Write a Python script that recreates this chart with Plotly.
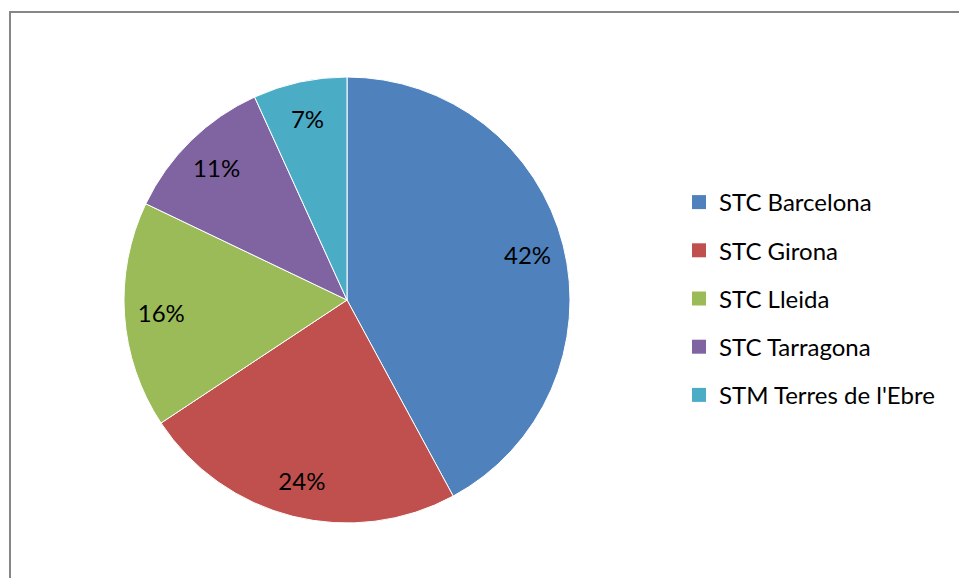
import plotly.graph_objects as go

labels = ["STC Barcelona", "STC Girona", "STC Lleida", "STC Tarragona", "STM Terres de l'Ebre"]
values = [42.1, 23.6, 16.4, 11.1, 6.8]
colors = ["#4F81BD", "#C0504D", "#9BBB59", "#8064A2", "#4BACC6"]

W, H = 959, 578
cx, cy, r = 347, 300, 223
FONT = "Lato"

dom = dict(x=[(cx - r) / W, (cx + r) / W], y=[1 - (cy + r) / H, 1 - (cy - r) / H])

fig = go.Figure()
# main pie (slices)
fig.add_trace(go.Pie(
    labels=labels, values=values, sort=False, direction="clockwise", rotation=0,
    marker=dict(colors=colors, line=dict(color="white", width=1)),
    textinfo="none", domain=dom, showlegend=False,
    hoverinfo="label+percent",
))
# transparent ring carrying the percentage labels further out
fig.add_trace(go.Pie(
    labels=labels, values=values, sort=False, direction="clockwise", rotation=0,
    hole=0.67,
    marker=dict(colors=["rgba(0,0,0,0)"] * len(labels), line=dict(width=0)),
    texttemplate="%{percent:.0%}", textposition="inside",
    insidetextorientation="horizontal",
    textfont=dict(family=FONT, size=24, color="black"),
    domain=dom, showlegend=False, hoverinfo="skip",
))
# legend entries
for lab, col in zip(labels, colors):
    fig.add_trace(go.Scatter(
        x=[None], y=[None], mode="markers", name=lab, legendgroup=lab,
        marker=dict(symbol="square", size=14, color=col, line=dict(width=0)),
        showlegend=True, hoverinfo="skip",
    ))

fig.update_layout(
    width=W, height=H,
    margin=dict(l=0, r=0, t=0, b=0),
    paper_bgcolor="white", plot_bgcolor="white",
    xaxis=dict(visible=False), yaxis=dict(visible=False),
    legend=dict(
        x=679 / W, xanchor="left",
        y=1 - 180 / H, yanchor="top",
        font=dict(family=FONT, size=24, color="black"),
        traceorder="grouped", tracegroupgap=14,
        bgcolor="rgba(0,0,0,0)",
    ),
    shapes=[dict(type="rect", xref="paper", yref="paper",
                 x0=10 / W, x1=1.05, y0=-0.05, y1=1 - 12 / H,
                 line=dict(color="#868686", width=2))],
)

fig.write_html(
    "out.html",
    config={"displayModeBar": False},
    post_script="document.body.style.margin='0';document.body.style.overflow='hidden';",
)
